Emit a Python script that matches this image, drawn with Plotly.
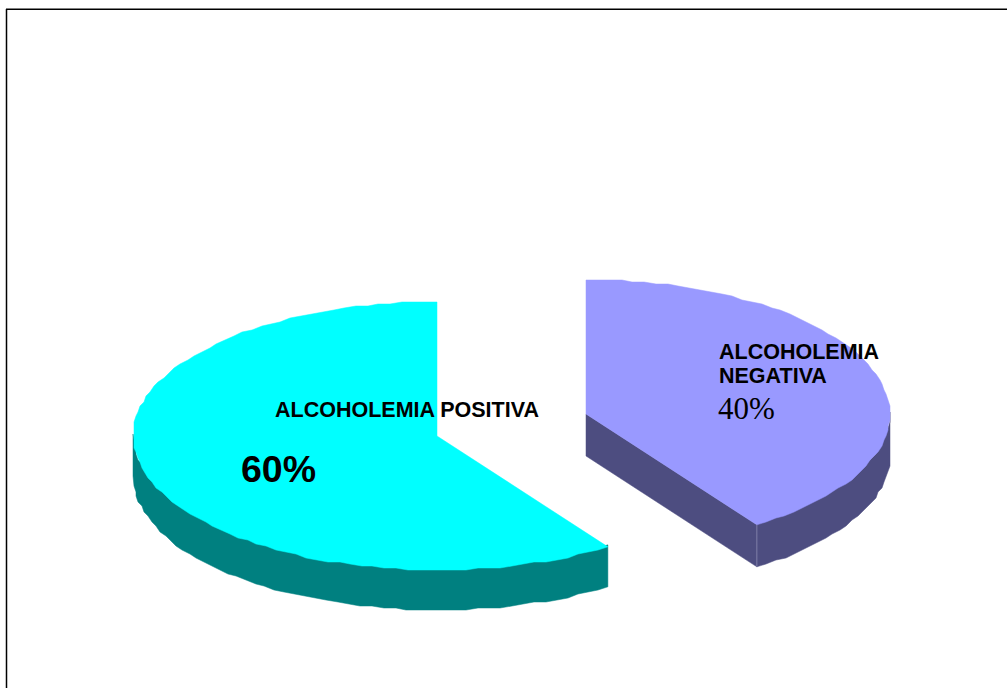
import numpy as np
import plotly.graph_objects as go

categories = ["ALCOHOLEMIA POSITIVA", "ALCOHOLEMIA NEGATIVA"]
values = [60, 40]
top_colors = ["#00FFFF", "#9999FF"]
side_colors = ["#008080", "#4D4D80"]
centers = [(437, 436), (586, 414)]
depths = [40, 42]
RX, RY = 304, 134
SKEW = 1.8   # the projected lower edge of the cut sits slightly past the true angle
GRID = 2     # outline of the reference is slightly stepped
LAP = 2      # the wall runs a little under the top face


def arc(cx, cy, a0, a1):
    n = max(2, int(abs(a1 - a0) / 2.2) + 1)
    t = np.radians(np.linspace(a0, a1, n))
    x = cx + RX * np.cos(t)
    y = cy + RY * np.sin(t)
    x[1:-1] = np.round(x[1:-1] / GRID) * GRID
    y[1:-1] = np.round(y[1:-1] / GRID) * GRID
    return x, y


def poly(fig, xs, ys, color):
    fig.add_trace(go.Scatter(x=list(xs) + [xs[0]], y=list(ys) + [ys[0]], mode="lines",
                             fill="toself", fillcolor=color, line=dict(color=color, width=0.5),
                             hoverinfo="skip", showlegend=False))


fig = go.Figure()
total = sum(values)
sweep0 = 360 * values[0] / total
sweep1 = 360 * values[1] / total

# first slice: from 12 o'clock counter-clockwise on screen
c0 = centers[0]
a_start0 = -90 - sweep0 + SKEW
a_end0 = -90
wx, wy = arc(c0[0], c0[1], a_start0 + 360, 180)
poly(fig, np.r_[wx, wx[::-1]], np.r_[wy - LAP, wy[::-1] + depths[0]], side_colors[0])
tx, ty = arc(c0[0], c0[1], a_start0, a_end0)
poly(fig, np.r_[c0[0], tx], np.r_[c0[1], ty], top_colors[0])

# second slice: from 12 o'clock clockwise
c1 = centers[1]
a0, a1 = -90, -90 + sweep1 + SKEW
ex = c1[0] + RX * np.cos(np.radians(a1))
ey = c1[1] + RY * np.sin(np.radians(a1))
poly(fig, [c1[0], ex, ex, c1[0]], [c1[1], ey, ey + depths[1], c1[1] + depths[1]], side_colors[1])
wx, wy = arc(c1[0], c1[1], 0, a1)
poly(fig, np.r_[wx, wx[::-1]], np.r_[wy - LAP, wy[::-1] + depths[1]], side_colors[1])
fig.add_trace(go.Scatter(x=[ex, ex], y=[ey, ey + depths[1]], mode="lines",
                         line=dict(color="#7D7DA6", width=1), hoverinfo="skip", showlegend=False))
tx, ty = arc(c1[0], c1[1], a0, a1)
poly(fig, np.r_[c1[0], tx], np.r_[c1[1], ty], top_colors[1])


def label(x, y, text, size, family="Liberation Sans", bold=True):
    fig.add_annotation(x=x, y=y, text=f"<b>{text}</b>" if bold else text, showarrow=False,
                       xanchor="left", yanchor="middle",
                       font=dict(family=family, size=size, color="black"), borderpad=0, borderwidth=0)


label(275, 410, categories[0], 21.5)
label(241, 469, f"{values[0]}%", 37.5)
first, second = categories[1].split(" ")
label(719, 352, first, 21.5)
label(719, 376, second, 21.5)
label(718, 408.5, f"{values[1]}%", 31, "Liberation Serif", False)

fig.add_shape(type="line", x0=6, x1=1007, y0=8.5, y1=8.5, line=dict(color="#808080", width=1))
fig.add_shape(type="line", x0=6, x1=1007, y0=9.5, y1=9.5, line=dict(color="black", width=1))
fig.add_shape(type="line", x0=6.5, x1=6.5, y0=9, y1=688, line=dict(color="black", width=1.5))

fig.update_layout(width=1007, height=688, margin=dict(l=0, r=0, t=0, b=0),
                  paper_bgcolor="white", plot_bgcolor="white", showlegend=False,
                  xaxis=dict(range=[0, 1007], visible=False, fixedrange=True),
                  yaxis=dict(range=[688, 0], visible=False, fixedrange=True))
fig.write_html("out.html", config={"displayModeBar": False},
               post_script="document.body.style.margin='0';document.documentElement.style.overflow='hidden';")
